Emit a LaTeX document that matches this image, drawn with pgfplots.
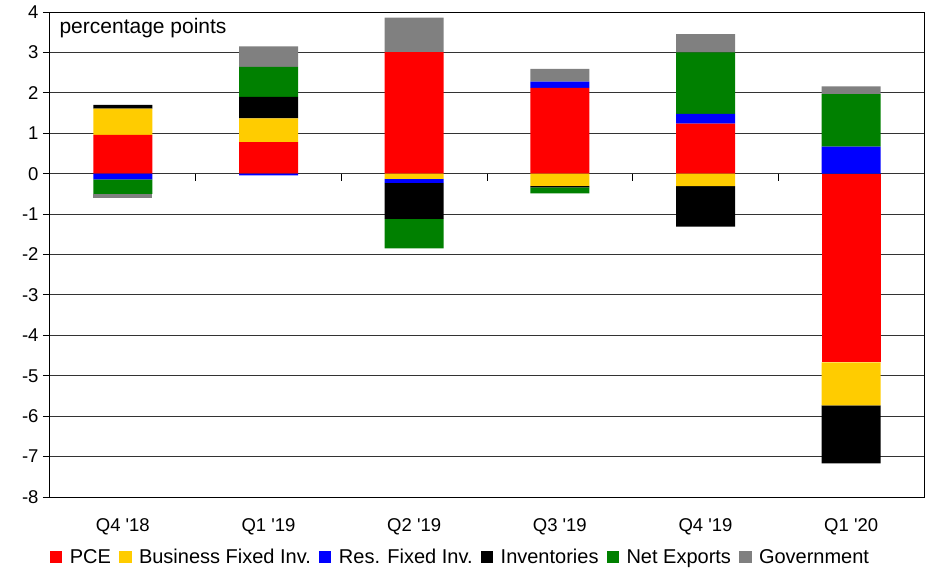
\documentclass[border=0pt]{standalone}
\usepackage{pgfplots}
\pgfplotsset{compat=1.18}
\usepackage{pgfplotstable}
\usepackage{fontspec}
\setmainfont{Liberation Sans}

\definecolor{cPCE}{RGB}{255,0,0}
\definecolor{cBFI}{RGB}{255,204,0}
\definecolor{cRFI}{RGB}{0,0,255}
\definecolor{cInv}{RGB}{0,0,0}
\definecolor{cNX}{RGB}{0,128,0}
\definecolor{cGov}{RGB}{128,128,128}

% contributions to real GDP growth, percentage points
\pgfplotstableread{
x PCE   BFI   RFI   Inv   NX    Gov
0 0.96  0.65  -0.14 0.09  -0.36 -0.09
1 0.78  0.59  -0.04 0.53  0.74  0.51
2 3.01  -0.13 -0.10 -0.89 -0.73 0.85
3 2.12  -0.30 0.16  -0.04 -0.15 0.31
4 1.24  -0.31 0.24  -1.00 1.52  0.45
5 -4.67 -1.06 0.67  -1.44 1.30  0.19
}\contrib

\pgfplotsset{
  common/.style={
    width=874pt, height=485pt, scale only axis,
    at={(50pt,73pt)}, anchor=south west,
    xmin=-0.5, xmax=5.5, ymin=-8, ymax=4,
    ybar stacked, bar width=59pt,
    every axis plot/.append style={draw=none},
  },
}
\newcommand{\q}{\textquotesingle}

\begin{document}
\begin{tikzpicture}
\path[use as bounding box] (0,0) rectangle (931pt,570pt);
% positive parts, with frame, grid, ticks and legend
\begin{axis}[common,
  axis line style={black, line width=1pt},
  ymajorgrids, grid style={black!80, line width=0.9pt},
  ytick={-8,...,4},
  yticklabels={-8,-7,-6,-5,-4,-3,-2,-1,0,1,2,3,4},
  xtick={0,...,5},
  xticklabels={Q4 \q18,Q1 \q19,Q2 \q19,Q3 \q19,Q4 \q19,Q1 \q20},
  tick align=outside, ytick pos=left,
  major tick length=7pt,
  ytick style={black, line width=1pt},
  xtick style={draw=none},
  tick label style={font=\fontsize{18.5}{22}\selectfont},
  yticklabel style={xshift=-1pt},
  xticklabel style={yshift=-11pt},
  legend columns=6,
  legend style={draw=none, at={(0,-0.1196)}, anchor=west, xshift=-3.3pt, yshift=-2pt,
    font=\fontsize{20}{24}\selectfont,
    /tikz/every odd column/.append style={column sep=5.5pt},
    /tikz/every even column/.append style={column sep=6pt}},
  legend image code/.code={\fill[#1] (0pt,-6pt) rectangle (12.5pt,6pt);},
]
\addplot[fill=cPCE] table[x=x, y expr={max(\thisrow{PCE},0)}] {\contrib};
\addlegendentry{PCE}
\addplot[fill=cBFI] table[x=x, y expr={max(\thisrow{BFI},0)}] {\contrib};
\addlegendentry{Business Fixed Inv.}
\addplot[fill=cRFI] table[x=x, y expr={max(\thisrow{RFI},0)}] {\contrib};
\addlegendentry{Res. Fixed Inv.}
\addplot[fill=cInv] table[x=x, y expr={max(\thisrow{Inv},0)}] {\contrib};
\addlegendentry{Inventories}
\addplot[fill=cNX] table[x=x, y expr={max(\thisrow{NX},0)}] {\contrib};
\addlegendentry{Net Exports}
\addplot[fill=cGov] table[x=x, y expr={max(\thisrow{Gov},0)}] {\contrib};
\addlegendentry{Government}
\pgfplotsinvokeforeach{0.5,1.5,2.5,3.5,4.5}{
  \draw[black, line width=1pt] (axis cs:#1,0) -- ([yshift=-7pt]axis cs:#1,0);
}
\node[anchor=base west, font=\fontsize{21}{24}\selectfont]
  at (axis description cs:0.0069,0.9567) {percentage points};
\end{axis}
% negative parts stacked downward from zero
\begin{axis}[common, hide axis]
\addplot[fill=cPCE] table[x=x, y expr={min(\thisrow{PCE},0)}] {\contrib};
\addplot[fill=cBFI] table[x=x, y expr={min(\thisrow{BFI},0)}] {\contrib};
\addplot[fill=cRFI] table[x=x, y expr={min(\thisrow{RFI},0)}] {\contrib};
\addplot[fill=cInv] table[x=x, y expr={min(\thisrow{Inv},0)}] {\contrib};
\addplot[fill=cNX] table[x=x, y expr={min(\thisrow{NX},0)}] {\contrib};
\addplot[fill=cGov] table[x=x, y expr={min(\thisrow{Gov},0)}] {\contrib};
\end{axis}
\end{tikzpicture}
\end{document}
